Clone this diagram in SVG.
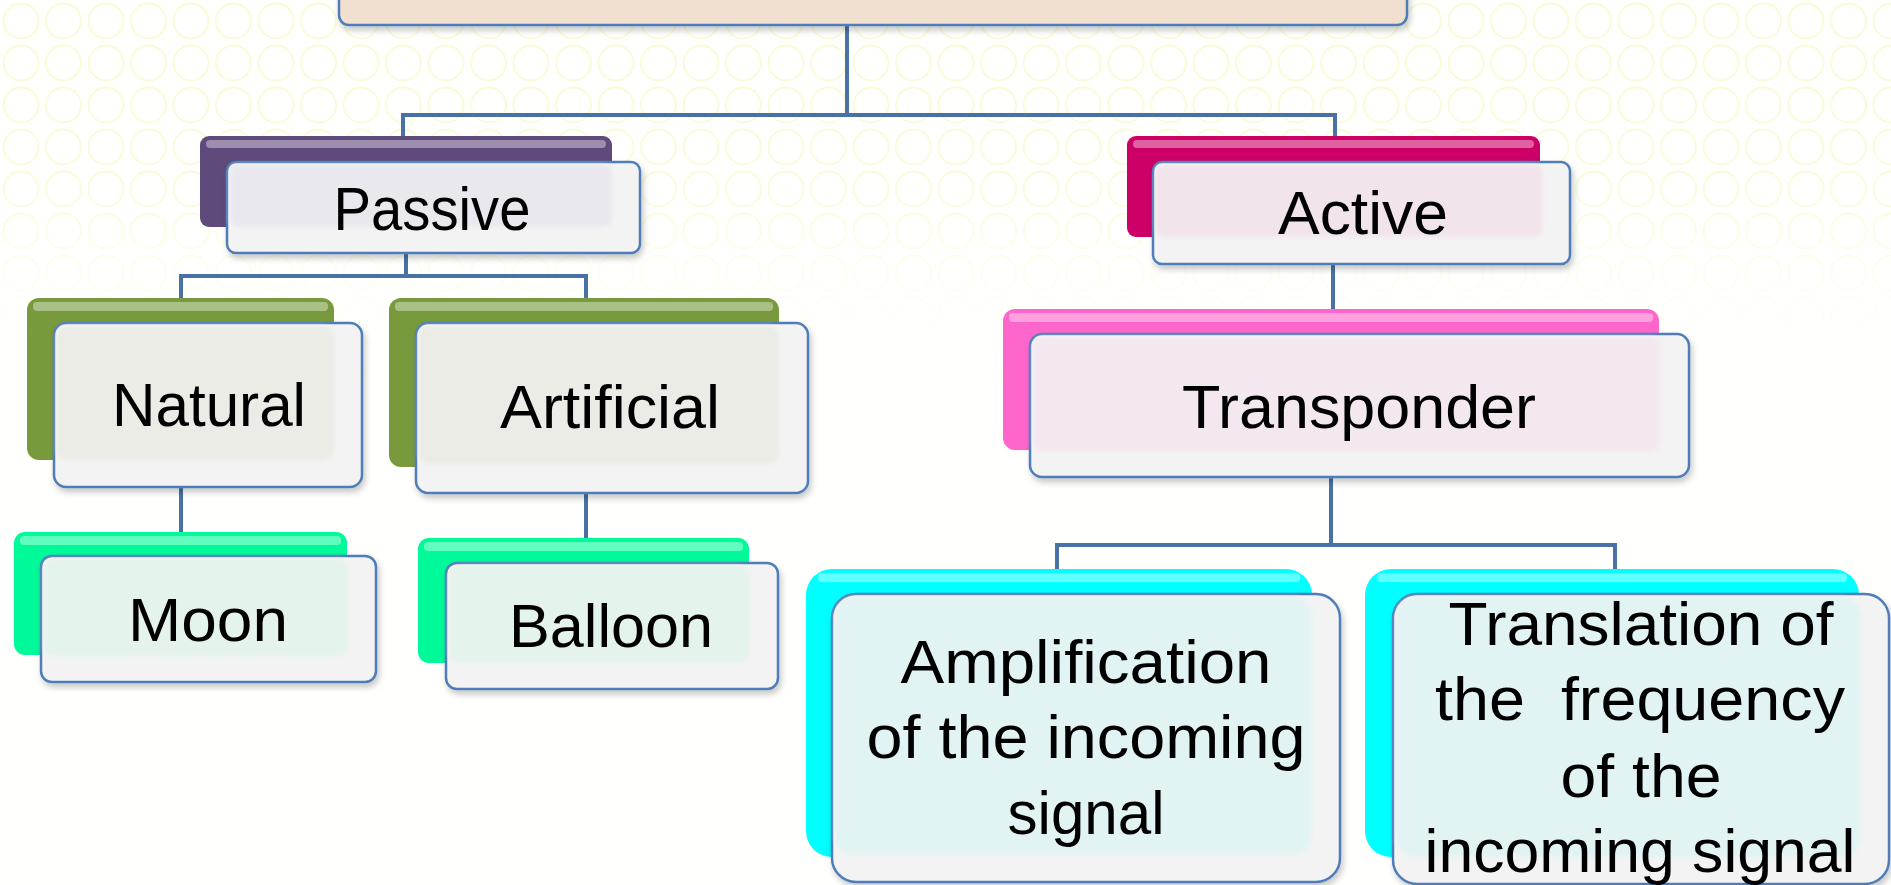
<svg xmlns="http://www.w3.org/2000/svg" width="1891" height="885" viewBox="0 0 1891 885">
<defs>
<style>
.lbl{font-family:"Liberation Sans",Arial,sans-serif;font-size:62px;fill:#000;text-anchor:middle;white-space:pre}
.front{stroke:#4F7DB8;stroke-width:2.5;fill:#F3F3F3}
.hl{fill:#fff;opacity:0.38}
.conn{fill:none;stroke:#4A71A5;stroke-width:4;stroke-linecap:square}
.tPur{fill:#E9E8EE}
.tOli{fill:#EBECE6}
.tMint{fill:#E4F3EC}
.tCrim{fill:#F1E4EB}
.tPink{fill:#F3E8F0}
.tCyan{fill:#E2F3F3}
</style>
<pattern id="rings" width="42.5" height="42" patternUnits="userSpaceOnUse">
<circle cx="21" cy="21" r="17.5" fill="none" stroke="#FAFAD6" stroke-width="2"/>
</pattern>
<linearGradient id="fade" x1="0" y1="0" x2="0" y2="885" gradientUnits="userSpaceOnUse">
<stop offset="0" stop-color="#fff" stop-opacity="1"/>
<stop offset="0.2" stop-color="#fff" stop-opacity="0.9"/>
<stop offset="0.34" stop-color="#fff" stop-opacity="0.15"/>
<stop offset="0.45" stop-color="#fff" stop-opacity="0"/>
</linearGradient>
<mask id="bgmask"><rect width="1891" height="885" fill="url(#fade)"/></mask>
<filter id="sh" x="-5%" y="-5%" width="112%" height="120%"><feDropShadow dx="2" dy="4" stdDeviation="3" flood-color="#000" flood-opacity="0.22"/></filter>
<filter id="soft" x="-5%" y="-5%" width="110%" height="110%"><feGaussianBlur stdDeviation="2"/></filter>
</defs>
<rect width="1891" height="885" fill="#FFFFFD"/>
<rect width="1891" height="885" fill="url(#rings)" mask="url(#bgmask)"/>

<g id="connectors">
<path class="conn" d="M847,25 V115"/>
<path class="conn" d="M403,115 H1335" stroke-width="6"/>
<path class="conn" d="M403,115 V136 M1335,115 V136"/>
<path class="conn" d="M406,253 V276 M181,276 H586 M181,276 V298 M586,276 V298"/>
<path class="conn" d="M181,487 V532 M586,493 V538"/>
<path class="conn" d="M1333,264 V309"/>
<path class="conn" d="M1331,477 V545 M1057,545 H1615 M1057,545 V569 M1615,545 V569"/>
</g>

<g id="root">
<rect class="front" x="339" y="-60" width="1068" height="85" rx="10" fill="#F1DFD0" style="fill:#F1DFD0" filter="url(#sh)"/>
</g>

<g id="passive">
<rect x="200" y="136" width="412" height="91" rx="9" fill="#5F4B7B"/>
<rect class="hl" x="206" y="140" width="400" height="8" rx="4"/>
<rect class="front" x="227" y="162" width="413" height="91" rx="9" filter="url(#sh)"/>
<rect class="tPur" x="230" y="165" width="382" height="62" rx="8" filter="url(#soft)"/>
<text class="lbl" x="432" y="230" textLength="197" lengthAdjust="spacingAndGlyphs">Passive</text>
</g>

<g id="active">
<rect x="1127" y="136" width="413" height="101" rx="9" fill="#CC0066"/>
<rect class="hl" x="1133" y="140" width="401" height="8" rx="4"/>
<rect class="front" x="1153" y="162" width="417" height="102" rx="9" filter="url(#sh)"/>
<rect class="tCrim" x="1156" y="165" width="386" height="72" rx="8" filter="url(#soft)"/>
<text class="lbl" x="1363" y="234" textLength="170" lengthAdjust="spacingAndGlyphs">Active</text>
</g>

<g id="natural">
<rect x="27" y="298" width="307" height="162" rx="12" fill="#789A3C"/>
<rect class="hl" x="33" y="302" width="295" height="9" rx="4"/>
<rect class="front" x="54" y="323" width="308" height="164" rx="12" filter="url(#sh)"/>
<rect class="tOli" x="57" y="326" width="277" height="134" rx="10" filter="url(#soft)"/>
<text class="lbl" x="209" y="426" textLength="194" lengthAdjust="spacingAndGlyphs">Natural</text>
</g>

<g id="artificial">
<rect x="389" y="298" width="390" height="169" rx="12" fill="#789A3C"/>
<rect class="hl" x="395" y="302" width="378" height="9" rx="4"/>
<rect class="front" x="416" y="323" width="392" height="170" rx="12" filter="url(#sh)"/>
<rect class="tOli" x="419" y="326" width="360" height="138" rx="10" filter="url(#soft)"/>
<text class="lbl" x="610" y="428" textLength="220" lengthAdjust="spacingAndGlyphs">Artificial</text>
</g>

<g id="moon">
<rect x="14" y="532" width="333" height="123" rx="11" fill="#00FA9A"/>
<rect class="hl" x="20" y="536" width="321" height="9" rx="4"/>
<rect class="front" x="41" y="556" width="335" height="126" rx="11" filter="url(#sh)"/>
<rect class="tMint" x="44" y="559" width="304" height="97" rx="9" filter="url(#soft)"/>
<text class="lbl" x="208" y="641" textLength="160" lengthAdjust="spacingAndGlyphs">Moon</text>
</g>

<g id="balloon">
<rect x="418" y="538" width="331" height="125" rx="11" fill="#00FA9A"/>
<rect class="hl" x="424" y="542" width="319" height="9" rx="4"/>
<rect class="front" x="446" y="563" width="332" height="126" rx="11" filter="url(#sh)"/>
<rect class="tMint" x="449" y="566" width="301" height="97" rx="9" filter="url(#soft)"/>
<text class="lbl" x="611" y="647" textLength="204" lengthAdjust="spacingAndGlyphs">Balloon</text>
</g>

<g id="transponder">
<rect x="1003" y="309" width="656" height="141" rx="12" fill="#FF66CC"/>
<rect class="hl" x="1009" y="313" width="644" height="9" rx="4"/>
<rect class="front" x="1030" y="334" width="659" height="143" rx="12" filter="url(#sh)"/>
<rect class="tPink" x="1033" y="337" width="628" height="114" rx="10" filter="url(#soft)"/>
<text class="lbl" x="1359" y="428" textLength="354" lengthAdjust="spacingAndGlyphs">Transponder</text>
</g>

<g id="amplification">
<rect x="806" y="569" width="506" height="288" rx="26" fill="#00FFFF"/>
<rect class="hl" x="818" y="573" width="482" height="9" rx="4"/>
<rect class="front" x="832" y="594" width="508" height="288" rx="24" filter="url(#sh)"/>
<rect class="tCyan" x="835" y="597" width="477" height="258" rx="20" filter="url(#soft)"/>
<text class="lbl" x="1086" y="683" textLength="371" lengthAdjust="spacingAndGlyphs">Amplification</text>
<text class="lbl" x="1086" y="758" textLength="439" lengthAdjust="spacingAndGlyphs">of the incoming</text>
<text class="lbl" x="1086" y="834" textLength="157" lengthAdjust="spacingAndGlyphs">signal</text>
</g>

<g id="translation">
<rect x="1365" y="569" width="494" height="288" rx="26" fill="#00FFFF"/>
<rect class="hl" x="1377" y="573" width="470" height="9" rx="4"/>
<rect class="front" x="1393" y="594" width="496" height="290" rx="24" filter="url(#sh)"/>
<rect class="tCyan" x="1396" y="597" width="465" height="260" rx="20" filter="url(#soft)"/>
<text class="lbl" x="1641" y="645" textLength="385" lengthAdjust="spacingAndGlyphs">Translation of</text>
<text class="lbl" x="1640" y="720" textLength="410" lengthAdjust="spacingAndGlyphs">the  frequency</text>
<text class="lbl" x="1641" y="797" textLength="161" lengthAdjust="spacingAndGlyphs">of the</text>
<text class="lbl" x="1640" y="872" textLength="431" lengthAdjust="spacingAndGlyphs">incoming signal</text>
</g>
</svg>
